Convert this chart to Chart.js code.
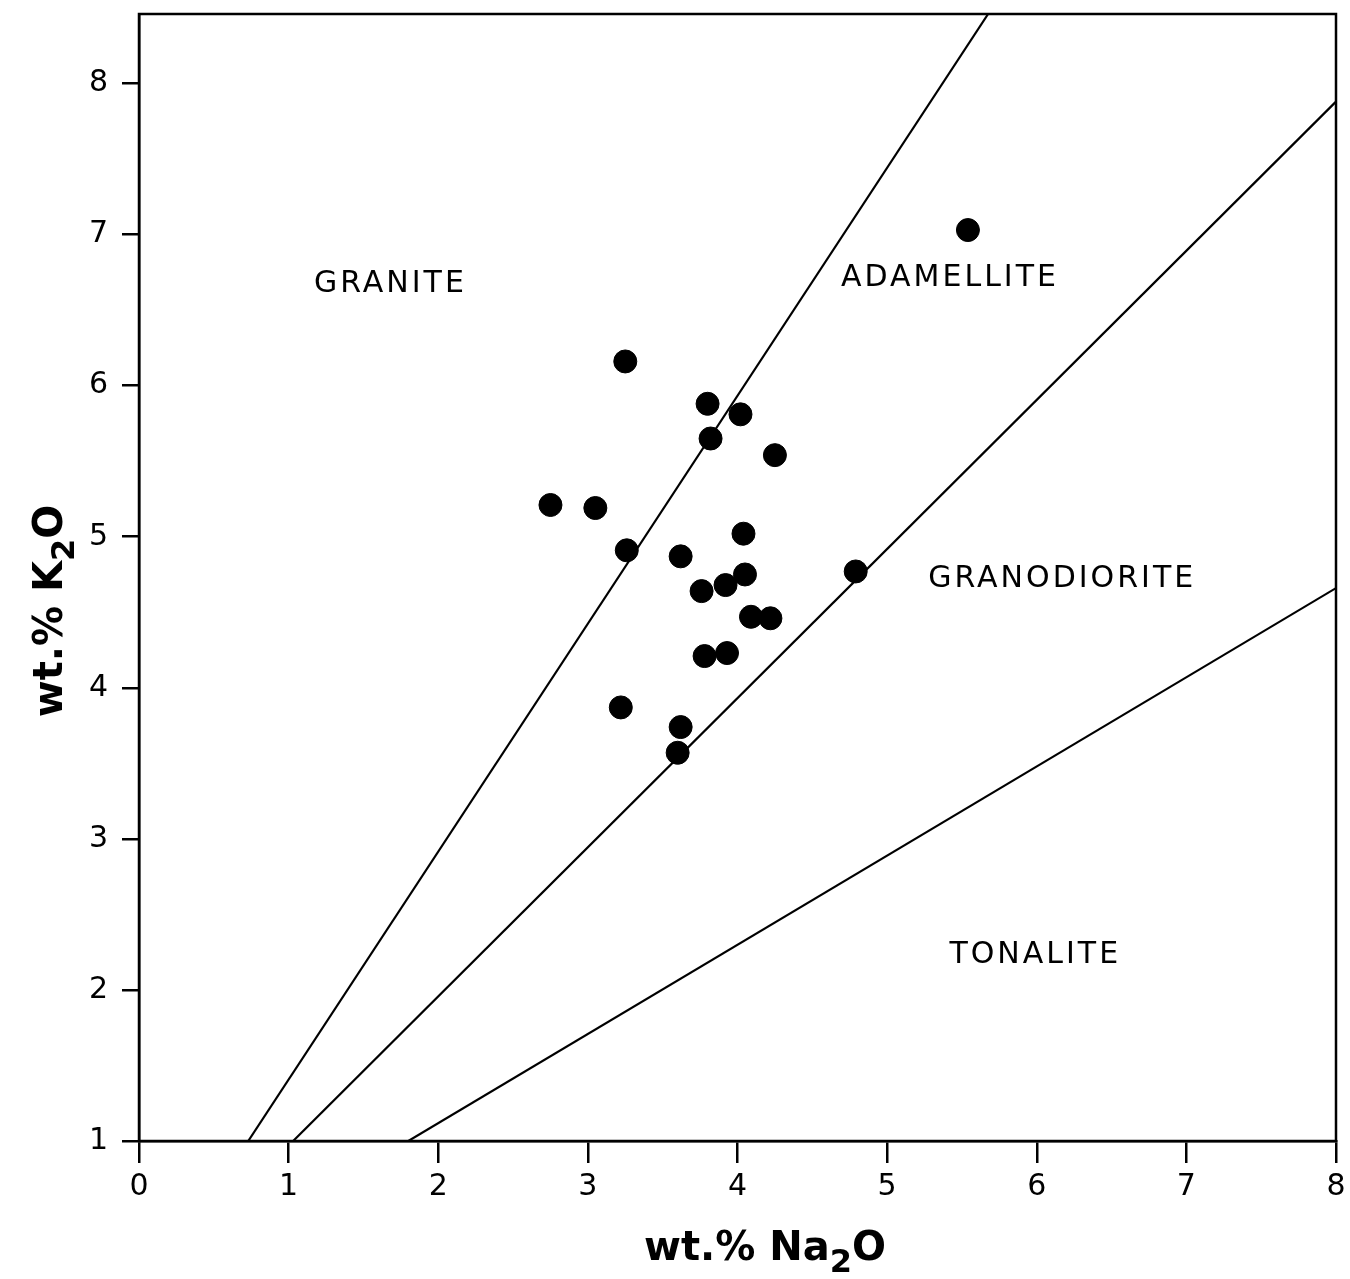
<!DOCTYPE html>
<html>
<head>
<meta charset="utf-8">
<script src="https://cdn.jsdelivr.net/npm/chart.js@4"></script>
<style>
  html, body { margin: 0; padding: 0; background: #fff; }
  #wrap { width: 1350px; height: 1279px; }
</style>
</head>
<body>
<div id="wrap"><canvas id="qapChart"></canvas></div>
<script>
// sample analyses (wt.% Na2O, wt.% K2O)
const na2o = [5.54, 3.25, 3.80, 4.02, 3.82, 4.25, 2.75, 3.05, 3.26, 3.62, 4.04,
              3.76, 3.92, 4.05, 4.09, 4.22, 3.78, 3.93, 3.22, 3.62, 3.60, 4.79];
const k2o  = [7.03, 6.16, 5.88, 5.81, 5.65, 5.54, 5.21, 5.19, 4.91, 4.87, 5.02,
              4.64, 4.68, 4.75, 4.47, 4.46, 4.21, 4.23, 3.87, 3.74, 3.57, 4.77];

// field boundaries, end points [Na2O, K2O]
const granAdamLine = [[0.73, 1], [5.675, 8.46]];
const adamGranodLine = [[1.03, 1], [8, 7.88]];
const granodTonLine = [[1.80, 1], [8, 4.66]];

// axes
const xTicks = [0, 1, 2, 3, 4, 5, 6, 7, 8];
const yTicks = [1, 2, 3, 4, 5, 6, 7, 8];

// field names and where they sit
const fieldNames = ['GRANITE', 'ADAMELLITE', 'GRANODIORITE', 'TONALITE'];
const fieldX = [1.68, 5.42, 6.17, 5.99];
const fieldY = [6.67, 6.71, 4.72, 2.23];

const toPts = (arr) => arr.map(p => ({ x: p[0], y: p[1] }));

function lineSet(pts) {
    return {
        type: 'line',
        data: toPts(pts),
        borderColor: '#000',
        borderWidth: 2.2,
        pointRadius: 0,
        fill: false
    };
}

// axis title with a lowered "2"
function drawTitle(ctx, parts, cx, cy) {
    const big = 'bold 40px "DejaVu Sans"';
    const small = 'bold 32px "DejaVu Sans"';
    let w = 0;
    parts.forEach(p => { ctx.font = p.sub ? small : big; w += ctx.measureText(p.t).width; });
    let x = cx - w / 2;
    ctx.textAlign = 'left';
    ctx.textBaseline = 'alphabetic';
    parts.forEach(p => {
        ctx.font = p.sub ? small : big;
        ctx.fillText(p.t, x, cy + (p.sub ? 12 : 0));
        x += ctx.measureText(p.t).width;
    });
}

// frame on top/right, field names, axis titles
const extras = {
    id: 'extras',
    afterDraw(chart) {
        const { ctx, chartArea: a, scales } = chart;
        ctx.save();
        ctx.strokeStyle = '#000';
        ctx.lineWidth = 2.5;
        ctx.strokeRect(a.left, a.top, a.right - a.left, a.bottom - a.top);

        ctx.fillStyle = '#000';
        ctx.font = '30px "DejaVu Sans"';
        ctx.letterSpacing = '3px';
        ctx.textAlign = 'center';
        ctx.textBaseline = 'middle';
        fieldNames.forEach((name, i) => {
            ctx.fillText(name, scales.x.getPixelForValue(fieldX[i]), scales.y.getPixelForValue(fieldY[i]));
        });
        ctx.letterSpacing = '0px';

        drawTitle(ctx, [{ t: 'wt.% Na' }, { t: '2', sub: true }, { t: 'O' }], 765, 1260);

        ctx.translate(62, 611);
        ctx.rotate(-Math.PI / 2);
        drawTitle(ctx, [{ t: 'wt.% K' }, { t: '2', sub: true }, { t: 'O' }], 0, 0);
        ctx.restore();
    }
};

function createChart() {
    const ctx = document.getElementById('qapChart').getContext('2d');
    new Chart(ctx, {
        type: 'scatter',
        data: {
            datasets: [
                {
                    data: na2o.map((v, i) => ({ x: v, y: k2o[i] })),
                    backgroundColor: '#000',
                    borderColor: '#000',
                    pointRadius: 11.5,
                    pointHoverRadius: 11.5
                },
                lineSet(granAdamLine),
                lineSet(adamGranodLine),
                lineSet(granodTonLine)
            ]
        },
        options: {
            responsive: true,
            maintainAspectRatio: false,
            animation: false,
            layout: { padding: { top: 14, right: 14, left: 0, bottom: 0 } },
            plugins: { legend: { display: false }, tooltip: { enabled: false } },
            scales: {
                x: {
                    type: 'linear',
                    min: 0,
                    max: 8,
                    afterBuildTicks: (s) => { s.ticks = xTicks.map(v => ({ value: v })); },
                    afterFit: (s) => { s.height = 138; s.paddingLeft = 0; s.paddingRight = 0; },
                    grid: { drawOnChartArea: false, drawTicks: true, tickLength: 22, color: '#000', lineWidth: 2.5 },
                    border: { display: true, color: '#000', width: 2.5 },
                    ticks: { color: '#000', padding: 6, font: { family: 'DejaVu Sans', size: 30 } }
                },
                y: {
                    type: 'linear',
                    min: 1,
                    max: 8.46,
                    afterBuildTicks: (s) => { s.ticks = yTicks.map(v => ({ value: v })); },
                    afterFit: (s) => { s.width = 139; s.paddingTop = 0; s.paddingBottom = 0; },
                    grid: { drawOnChartArea: false, drawTicks: true, tickLength: 17, color: '#000', lineWidth: 2.5 },
                    border: { display: true, color: '#000', width: 2.5 },
                    ticks: { color: '#000', padding: 14, font: { family: 'DejaVu Sans', size: 30 } }
                }
            }
        },
        plugins: [extras]
    });
}

window.onload = function () {
    createChart();
};
</script>
</body>
</html>
